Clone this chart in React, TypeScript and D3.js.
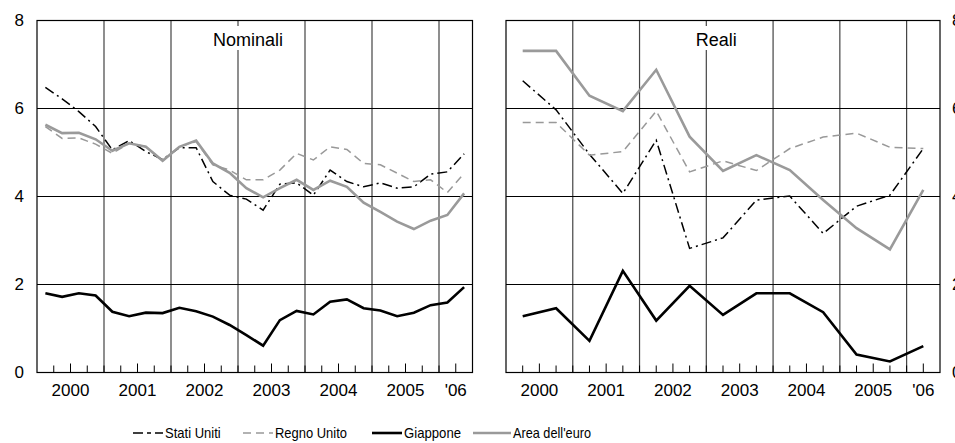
import React from "react";
import * as d3 from "d3";

// quarterly nominal series, 2000Q1 - 2006Q2
const nomUS = [6.48, 6.22, 5.93, 5.59, 5.06, 5.27, 5.02, 4.84, 5.11, 5.11, 4.34, 4.03, 3.94, 3.69, 4.28, 4.31, 4.03, 4.6, 4.34, 4.22, 4.31, 4.19, 4.22, 4.51, 4.56, 4.97];
const nomUK = [5.59, 5.32, 5.33, 5.19, 4.98, 5.21, 5.13, 4.81, 5.13, 5.25, 4.72, 4.6, 4.38, 4.38, 4.6, 4.98, 4.83, 5.13, 5.07, 4.75, 4.72, 4.53, 4.34, 4.38, 4.09, 4.53];
const nomJP = [1.8, 1.72, 1.8, 1.75, 1.38, 1.28, 1.36, 1.35, 1.47, 1.39, 1.27, 1.08, 0.85, 0.61, 1.19, 1.4, 1.32, 1.61, 1.66, 1.46, 1.41, 1.28, 1.36, 1.53, 1.59, 1.94];
const nomEA = [5.63, 5.44, 5.45, 5.3, 5.04, 5.21, 5.13, 4.81, 5.13, 5.27, 4.75, 4.54, 4.19, 3.98, 4.19, 4.38, 4.15, 4.36, 4.22, 3.86, 3.65, 3.43, 3.26, 3.45, 3.58, 4.07];

// half-yearly real series, 2000H1 - 2006H1
const realUS = [6.63, 5.97, 4.96, 4.07, 5.28, 2.82, 3.06, 3.92, 4.01, 3.16, 3.78, 4.03, 5.09];
const realUK = [5.68, 5.68, 4.94, 5.02, 5.94, 4.56, 4.81, 4.59, 5.09, 5.35, 5.44, 5.12, 5.09];
const realJP = [1.28, 1.46, 0.72, 2.31, 1.18, 1.97, 1.31, 1.8, 1.8, 1.37, 0.41, 0.25, 0.6];
const realEA = [7.31, 7.31, 6.29, 5.94, 6.88, 5.36, 4.58, 4.94, 4.6, 3.92, 3.28, 2.8, 4.15];

const yearLabels = ["2000", "2001", "2002", "2003", "2004", "2005", "'06"];
const yTicks = [0, 2, 4, 6, 8];
const seriesNames = ["Stati Uniti", "Regno Unito", "Giappone", "Area dell'euro"];

const styles = [
  { stroke: "#000", width: 1.5, dash: "10,4,2,4" },
  { stroke: "#999", width: 1.5, dash: "8,5" },
  { stroke: "#000", width: 2.6, dash: null },
  { stroke: "#9a9a9a", width: 2.6, dash: null },
];

const FONT = "'Liberation Sans', Arial, sans-serif";
const top = 20.5, bottom = 372.5;
const y = d3.scaleLinear().domain([0, 8]).range([bottom, top]);

function Panel({ left, right, title, series, perYear, labelSide }: any) {
  const x = d3.scaleLinear().domain([2000, 2006.5]).range([left, right]);
  const t = (i: number) => 2000 + (i + 0.5) / perYear;
  const line = d3.line<number>().x((_, i) => x(t(i))).y(d => y(d));
  const quarters = d3.range(2000.25, 2006.5, 0.25);
  const labelPos = yearLabels.map((_, i) => (i < 6 ? 2000.5 + i : 2006.25));
  const titleW = title.length * 9.3 + 6;
  return (
    <g>
      {[2001, 2002, 2003, 2004, 2005, 2006].map(v => (
        <line key={v} x1={x(v)} x2={x(v)} y1={top} y2={bottom} stroke="#444" strokeWidth={1.2} />
      ))}
      {[2, 4, 6].map(v => (
        <line key={v} x1={left} x2={right} y1={y(v)} y2={y(v)} stroke="#000" strokeWidth={1} />
      ))}
      {quarters.map(q => {
        const major = labelPos.some(p => Math.abs(p - q) < 1e-6);
        return <line key={q} x1={x(q)} x2={x(q)} y1={bottom} y2={bottom - (major ? 9 : 7)} stroke="#000" strokeWidth={1} />;
      })}
      {series.map((s: number[], k: number) => (
        <path key={k} d={line(s) as string} fill="none" stroke={styles[k].stroke} strokeWidth={styles[k].width}
          strokeDasharray={styles[k].dash || undefined} strokeLinejoin="miter" />
      ))}
      <rect x={x(2003) + 10 - titleW / 2} y={26} width={titleW} height={24} fill="#fff" />
      <text x={x(2003) + 10} y={46} textAnchor="middle" fontSize={18} fontFamily={FONT} fill="#000">{title}</text>
      <rect x={left} y={top} width={right - left} height={bottom - top} fill="none" stroke="#000" strokeWidth={1.2} />
      {yearLabels.map((l, i) => (
        <text key={l} x={x(labelPos[i])} y={396} textAnchor="middle" fontSize={17} fontFamily={FONT} fill="#000">{l}</text>
      ))}
      {yTicks.map(v => (
        <text key={v} x={labelSide === "left" ? left - 13 : right + 12} y={y(v)} dy="0.35em"
          textAnchor={labelSide === "left" ? "end" : "start"} fontSize={17} fontFamily={FONT} fill="#000">{v}</text>
      ))}
    </g>
  );
}

export default function App() {
  const legendX = [133, 243, 372, 473];
  const legendLen = [30, 30, 30, 38];
  const legendTextW = [55.7, 72, 57, 78];
  return (
    <svg width={955} height={443} style={{ position: "absolute", left: 0, top: 0, background: "#fff" }}>
      <Panel left={37} right={472.5} title="Nominali" series={[nomUS, nomUK, nomJP, nomEA]} perYear={4} labelSide="left" />
      <Panel left={506} right={940} title="Reali" series={[realUS, realUK, realJP, realEA]} perYear={2} labelSide="right" />
      {seriesNames.map((n, k) => (
        <g key={n}>
          <line x1={legendX[k]} x2={legendX[k] + legendLen[k]} y1={433} y2={433} stroke={styles[k].stroke}
            strokeWidth={styles[k].width} strokeDasharray={k === 0 ? "10,4,4,4" : styles[k].dash || undefined} />
          <text x={legendX[k] + legendLen[k] + 2} y={433} dy="0.36em" fontSize={15} fontFamily={FONT} fill="#000"
            textLength={legendTextW[k]} lengthAdjust="spacingAndGlyphs">{n}</text>
        </g>
      ))}
    </svg>
  );
}
